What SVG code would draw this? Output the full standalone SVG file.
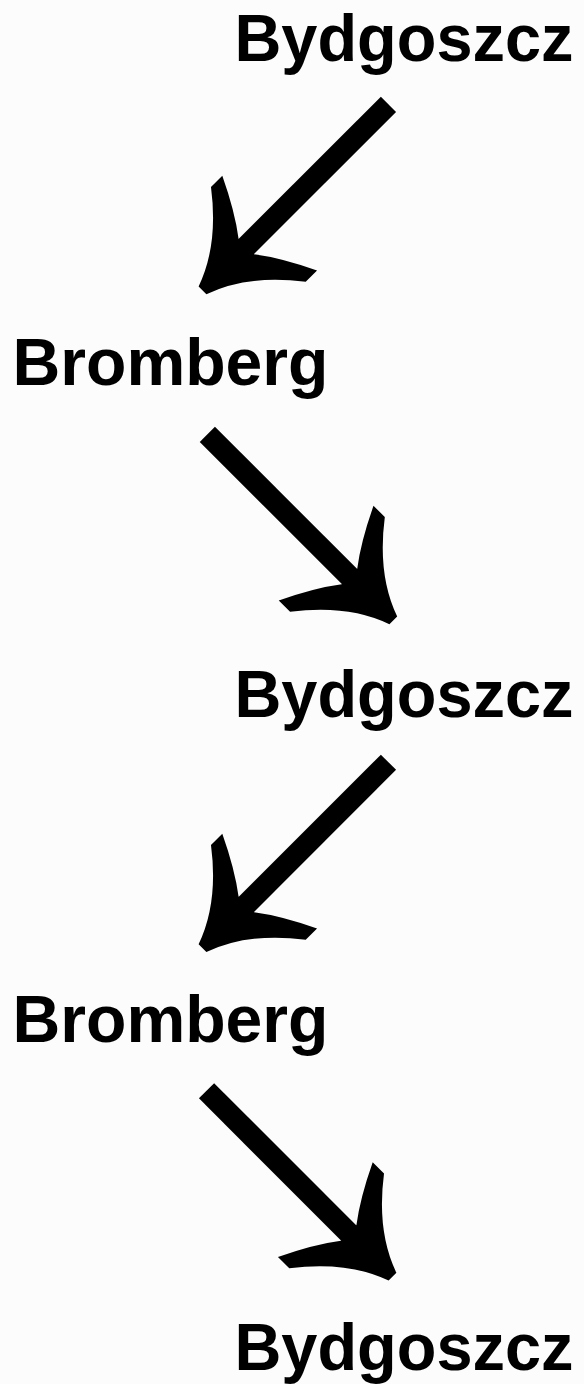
<svg xmlns="http://www.w3.org/2000/svg" xmlns:xlink="http://www.w3.org/1999/xlink" width="584" height="1384" viewBox="0 0 584 1384">
  <style>
    .lbl { font-family: "Liberation Sans", Arial, Helvetica, sans-serif; font-weight: bold; font-size: 66px; fill: #000; }
    .shaft { stroke: #000; stroke-width: 21.5; stroke-linecap: butt; fill: none; }
    .head { fill: #000; stroke: none; }
  </style>
  <defs>
    <g id="arrow">
      <line class="shaft" x1="-263" y1="0" x2="-55" y2="0"/>
      <path class="head" d="M 0,5.5 Q -43.4,20.7 -79,67 L -95,67 Q -78.6,32.6 -62,11 L -62,-11 Q -78.6,-32.6 -95,-67 L -79,-67 Q -43.4,-20.7 0,-5.5 Z"/>
    </g>
  </defs>
  <rect x="0" y="0" width="584" height="1384" fill="#fcfcfc"/>
  <g id="connectors">
    <use xlink:href="#arrow" href="#arrow" transform="translate(202.5,290.3) rotate(135)"/>
    <use xlink:href="#arrow" href="#arrow" transform="translate(393.3,620.3) rotate(45)"/>
    <use xlink:href="#arrow" href="#arrow" transform="translate(202.5,948.2) rotate(135)"/>
    <use xlink:href="#arrow" href="#arrow" transform="translate(392.5,1276.7) rotate(45)"/>
  </g>
  <g id="node-bydgoszcz-1">
    <text class="lbl" x="234.5" y="61" textLength="339" lengthAdjust="spacingAndGlyphs">Bydgoszcz</text>
  </g>
  <g id="node-bromberg-1">
    <text class="lbl" x="12.5" y="385" textLength="316" lengthAdjust="spacingAndGlyphs">Bromberg</text>
  </g>
  <g id="node-bydgoszcz-2">
    <text class="lbl" x="234.5" y="717" textLength="339" lengthAdjust="spacingAndGlyphs">Bydgoszcz</text>
  </g>
  <g id="node-bromberg-2">
    <text class="lbl" x="12.5" y="1042" textLength="316" lengthAdjust="spacingAndGlyphs">Bromberg</text>
  </g>
  <g id="node-bydgoszcz-3">
    <text class="lbl" x="234.5" y="1370" textLength="339" lengthAdjust="spacingAndGlyphs">Bydgoszcz</text>
  </g>
</svg>
